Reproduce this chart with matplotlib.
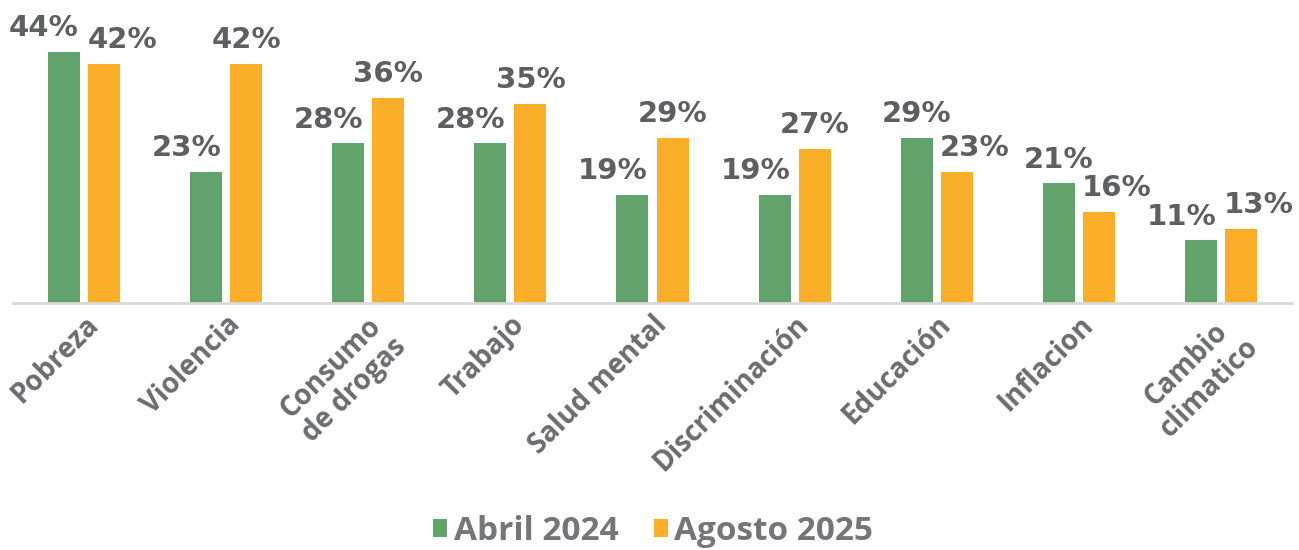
import matplotlib
matplotlib.use("Agg")
import matplotlib.pyplot as plt
import numpy as np

categories = ["Pobreza", "Violencia", "Consumo\nde drogas", "Trabajo", "Salud mental",
              "Discriminación", "Educación", "Inflacion", "Cambio\nclimatico"]
abril_2024 = [44, 23, 28, 28, 19, 19, 29, 21, 11]
agosto_2025 = [42, 42, 36, 35, 29, 27, 23, 16, 13]
series_names = ["Abril 2024", "Agosto 2025"]

GREEN = "#62A36B"
ORANGE = "#FBAE27"
GRAY = "#5E5F62"
TICK_GRAY = "#6B6C6F"
LEG_GRAY = "#757679"

fig = plt.figure(figsize=(12.99, 5.5), dpi=100)
ax = fig.add_axes([13/1299, 1 - 303/550, 1279/1299, 285/550])

x = np.arange(len(categories))
w = 0.225
off = 0.141
b1 = ax.bar(x - off, abril_2024, w, color=GREEN, label=series_names[0], zorder=2)
b2 = ax.bar(x + off, agosto_2025, w, color=ORANGE, label=series_names[1], zorder=2)

ax.set_xlim(-0.5, len(categories) - 0.5)
ax.set_ylim(0, 50)

for s in ["top", "right", "left"]:
    ax.spines[s].set_visible(False)
ax.spines["bottom"].set_color("#D9D9D9")
ax.spines["bottom"].set_linewidth(2)
ax.set_yticks([])
ax.tick_params(axis="x", length=0, pad=5)
ax.set_xticks(x)
ax.set_xticklabels(categories, rotation=45, ha="right", rotation_mode="anchor",
                   fontsize=20, fontweight="bold", color=TICK_GRAY, family="Open Sans",
                   multialignment="center", linespacing=1.15)

label_font = dict(fontsize=21, fontweight="bold", color=GRAY, family="DejaVu Sans")
for i in range(len(categories)):
    a, g = abril_2024[i], agosto_2025[i]
    close = abs(a - g) < 4
    # shift labels outward to avoid overlap with neighbouring bar / label
    if a < g:
        da, dg = -14, (13 if close else 0)
    else:
        da, dg = (-15 if close else 0), 13
    ax.annotate(f"{a}%", (x[i] - off, a), xytext=(da, 7), textcoords="offset points",
                ha="center", va="bottom", annotation_clip=False, **label_font)
    ax.annotate(f"{g}%", (x[i] + off, g), xytext=(dg, 7), textcoords="offset points",
                ha="center", va="bottom", annotation_clip=False, **label_font)

leg = fig.legend(handles=[b1, b2], labels=series_names, loc="lower center",
                 bbox_to_anchor=(0.503, 0.004), ncol=2, frameon=False,
                 borderpad=0, borderaxespad=0,
                 handlelength=0.42, handleheight=0.42, handletextpad=0.2, columnspacing=1.05,
                 prop=dict(family="Open Sans", weight="bold", size=24))
for t in leg.get_texts():
    t.set_color(LEG_GRAY)

fig.savefig("out.png", dpi=100)
